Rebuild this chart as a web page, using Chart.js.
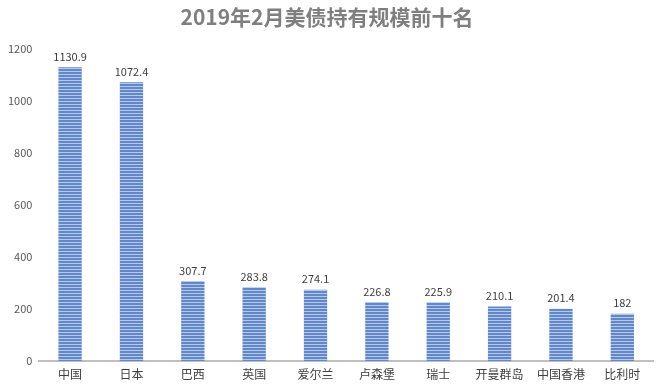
<!DOCTYPE html>
<html>
<head>
<meta charset="utf-8">
<script src="https://cdn.jsdelivr.net/npm/chart.js@4/dist/chart.umd.min.js"></script>
<style>
  html, body { margin: 0; padding: 0; background: #fff; }
  #wrap { width: 659px; height: 385px; }
</style>
</head>
<body>
<div id="wrap"><canvas id="barChart" width="659" height="385"></canvas></div>
<script>
const titleText = '2019年2月美债持有规模前十名';
const countries = ['中国', '日本', '巴西', '英国', '爱尔兰', '卢森堡', '瑞士', '开曼群岛', '中国香港', '比利时'];
const holdings = [1130.9, 1072.4, 307.7, 283.8, 274.1, 226.8, 225.9, 210.1, 201.4, 182];
const yTicks = [0, 200, 400, 600, 800, 1000, 1200];

const FONT = '"Microsoft YaHei", "Noto Sans CJK SC", "DejaVu Sans", sans-serif';

// horizontal stripe fill like the original
function stripePattern() {
    const c = document.createElement('canvas');
    c.width = 4;
    c.height = 3;
    const g = c.getContext('2d');
    g.fillStyle = '#6288c9';
    g.fillRect(0, 0, 4, 3);
    g.fillStyle = '#b4c8ea';
    g.fillRect(0, 2, 4, 1);
    return g.createPattern(c, 'repeat');
}

// value labels on top of each bar
const valueLabels = {
    id: 'valueLabels',
    afterDatasetsDraw(chart) {
        const ctx = chart.ctx;
        const meta = chart.getDatasetMeta(0);
        ctx.save();
        ctx.font = '11px ' + FONT;
        ctx.fillStyle = '#404040';
        ctx.textAlign = 'center';
        ctx.textBaseline = 'bottom';
        meta.data.forEach((bar, i) => {
            ctx.fillText(String(holdings[i]), bar.x, bar.y - 5);
        });
        ctx.restore();
    }
};

const ctx = document.getElementById('barChart').getContext('2d');
const barChart = new Chart(ctx, {
    type: 'bar',
    data: {
        labels: countries,
        datasets: [{
            data: holdings,
            backgroundColor: stripePattern(),
            borderWidth: 0,
            categoryPercentage: 1,
            barPercentage: 0.38
        }]
    },
    options: {
        responsive: false,
        animation: false,
        layout: { padding: { left: 1, right: 6, top: 0, bottom: -2 } },
        plugins: {
            legend: { display: false },
            tooltip: { enabled: false },
            title: {
                display: true,
                text: titleText,
                color: '#7f7f7f',
                font: { family: FONT, size: 21, weight: 'bold' },
                padding: { top: 4, bottom: 20 }
            }
        },
        scales: {
            x: {
                grid: { display: false, drawTicks: false },
                border: { display: true, color: '#bfbfbf', width: 2 },
                ticks: { color: '#404040', font: { family: FONT, size: 12, lineHeight: 1 }, padding: 7 }
            },
            y: {
                min: 0,
                max: 1200,
                afterBuildTicks(axis) {
                    axis.ticks = yTicks.map(v => ({ value: v }));
                },
                grid: { display: false, drawTicks: false },
                border: { display: false },
                ticks: {
                    color: '#595959',
                    font: { family: FONT, size: 11 },
                    padding: 7,
                    callback: v => String(v)
                }
            }
        }
    },
    plugins: [valueLabels]
});
</script>
</body>
</html>
